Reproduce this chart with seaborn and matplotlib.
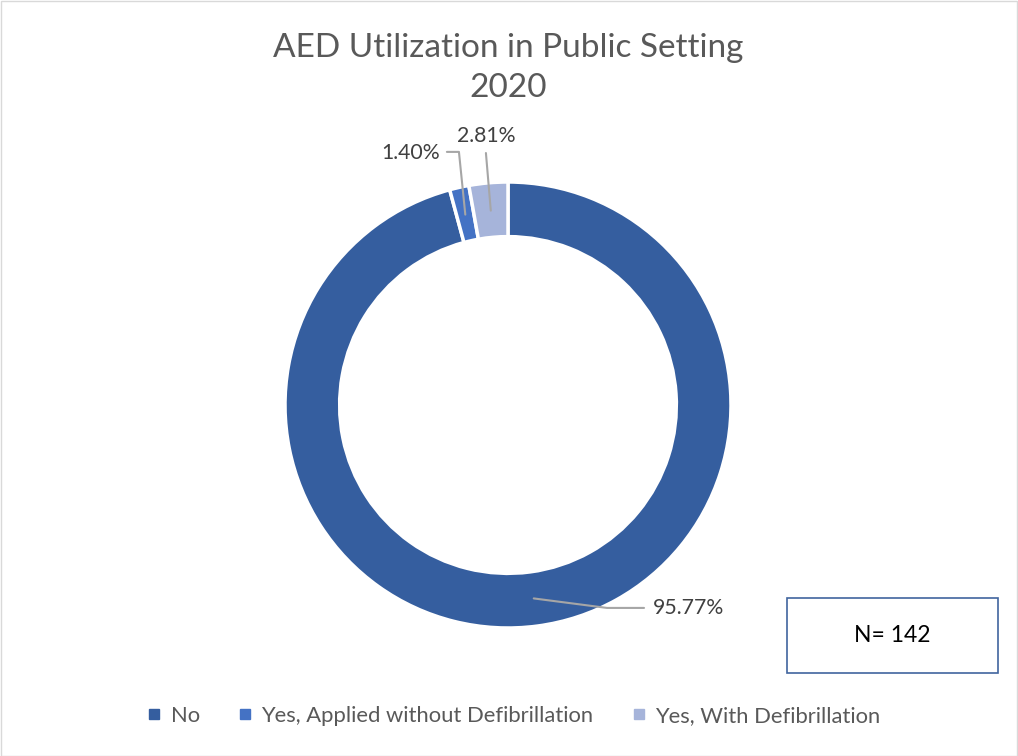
import numpy as np
import matplotlib
matplotlib.use("Agg")
import matplotlib.pyplot as plt
import seaborn as sns
from matplotlib.lines import Line2D
from matplotlib.patches import Rectangle

categories = ["No", "Yes, Applied without Defibrillation", "Yes, With Defibrillation"]
values = [95.77, 1.40, 2.81]
colors = ["#355E9F", "#4472C4", "#A6B4DA"]
title = "AED Utilization in Public Setting\n2020"
n_label = "N= 142"

sns.set_theme(style="white")
plt.rcParams["font.family"] = ["Lato", "DejaVu Sans"]

W, H = 1018, 756
fig = plt.figure(figsize=(W / 100, H / 100), dpi=100)
fig.patch.set_facecolor("white")

cx, cy, R = 508, 405, 223
ax = fig.add_axes([(cx - R) / W, (H - cy - R) / H, 2 * R / W, 2 * R / H])
wedges, _ = ax.pie(values, colors=colors, startangle=90, counterclock=False,
                   radius=1.0, wedgeprops=dict(width=0.245, edgecolor="white", linewidth=2.5))
ax.set_xlim(-1, 1)
ax.set_ylim(-1, 1)
ax.set_aspect("equal")
ax.axis("off")

# label layout (leader line elbow, line end, text position, alignment)
layouts = [
    dict(elbow=(0.444, -0.910), end=(0.610, -0.910), text=(0.648, -0.912), ha="left"),
    dict(elbow=(-0.220, 1.135), end=(-0.274, 1.135), text=(-0.307, 1.13), ha="right"),
    dict(elbow=(-0.099, 1.13), end=(-0.099, 1.13), text=(-0.099, 1.205), ha="center"),
]
for w, v, lay in zip(wedges, values, layouts):
    ang = np.deg2rad((w.theta1 + w.theta2) / 2)
    r = 0.875
    ax0, ay0 = r * np.cos(ang), r * np.sin(ang)
    xs = [ax0, lay["elbow"][0], lay["end"][0]]
    ys = [ay0, lay["elbow"][1], lay["end"][1]]
    ax.plot(xs, ys, color="#A6A6A6", lw=1.5, clip_on=False, zorder=5)
    ax.text(lay["text"][0], lay["text"][1], f"{v:.2f}%", ha=lay["ha"], va="center",
            fontsize=15.3, color="#404040", clip_on=False)

fig.text(cx / W, 1 - 68 / H, title, ha="center", va="center", fontsize=24,
         color="#595959", linespacing=1.42)

handles = [Line2D([], [], marker="s", linestyle="none", markersize=6.5,
                  markerfacecolor=c, markeredgecolor=c) for c in colors]
fig.legend(handles, categories, loc="center", bbox_to_anchor=(0.505, 1 - 716 / H),
           ncol=3, frameon=False, fontsize=15.8, handlelength=0.6, handletextpad=0.45,
           columnspacing=1.75, labelcolor="#595959")

# N box
bx0, by0, bx1, by1 = 787, 598, 998, 673
fig.patches.append(Rectangle((bx0 / W, 1 - by1 / H), (bx1 - bx0) / W, (by1 - by0) / H,
                             transform=fig.transFigure, facecolor="white",
                             edgecolor="#41659E", linewidth=1.2))
fig.text((bx0 + bx1) / 2 / W, 1 - (by0 + by1) / 2 / H, n_label, ha="center", va="center",
         fontsize=16.5, color="black")

# chart border
fig.patches.append(Rectangle((0.5 / W, 0.5 / H), 1 - 1.5 / W, 1 - 1.5 / H,
                             transform=fig.transFigure, facecolor="none",
                             edgecolor="#D9D9D9", linewidth=1))

fig.savefig("out.png", dpi=100)
